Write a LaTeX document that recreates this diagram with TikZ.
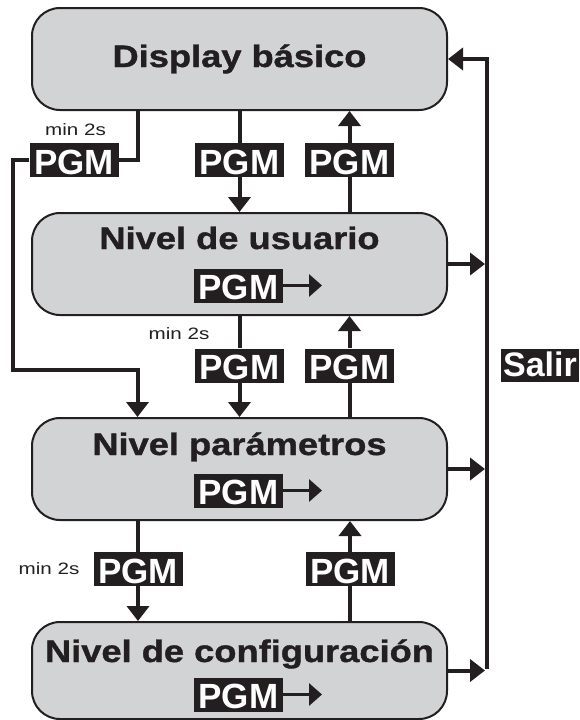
\documentclass[tikz,border=0pt]{standalone}
\usepackage{fontspec}
\setmainfont{Liberation Sans}
\newfontfamily\titlefont[FakeStretch=1.17,FakeBold=1.2]{Liberation Sans}
\newfontfamily\minfont[FakeStretch=1.25]{Liberation Sans}
\usetikzlibrary{arrows.meta}
\definecolor{dark}{HTML}{231F20}
\definecolor{boxgray}{HTML}{D1D3D4}
\tikzset{
  level/.style={draw=dark, line width=2pt, fill=boxgray, rounded corners=28pt, minimum width=415pt, inner sep=0pt},
  title/.style={anchor=base, font=\titlefont\bfseries\fontsize{31}{31}\selectfont, text=dark, inner sep=0pt},
  pgm/.style={fill=dark, text=white, font=\bfseries\fontsize{35}{35}\selectfont, minimum width=89pt, inner xsep=0pt, inner ysep=3pt, text height=28pt, text depth=0pt},
  conn/.style={draw=dark, line width=4pt},
  tip/.style={-{Triangle[length=15pt,width=22pt]}},
  smalltip/.style={line width=3.5pt, -{Triangle[length=13pt,width=22pt]}},
  mintxt/.style={font=\minfont\fontsize{16.5}{16.5}\selectfont, text=dark, inner sep=0pt},
}
\begin{document}
\begin{tikzpicture}[x=1pt,y=-1pt]
\useasboundingbox (0,0) rectangle (579,720);

% level boxes
\node[level, minimum height=102pt] (b1) at (239.5,59) {};
\node[level, minimum height=102pt] (b2) at (239.5,264) {};
\node[level, minimum height=102pt] (b3) at (239.5,469) {};
\node[level, minimum height=97pt] (b4) at (239.5,670.5) {};

% titles
\node[title] (t1) at (239.5,67) {Display básico};
\node[title] (t2) at (239.5,249) {Nivel de usuario};
\node[title] (t3) at (239.5,455) {Nivel parámetros};
\node[title] (t4) at (239.5,662) {Nivel de configuración};

% PGM inside boxes
\node[pgm] (q2) at (238.5,285.5) {PGM};
\node[pgm] (q3) at (238.5,490.5) {PGM};
\node[pgm] (q4) at (238.5,694.5) {PGM};
\coordinate (q2e) at (322,285.5);
\coordinate (q3e) at (322,490.5);
\coordinate (q4e) at (322,694.5);
\draw[conn, smalltip] (q2.east) -- (q2e);
\draw[conn, smalltip] (q3.east) -- (q3e);
\draw[conn, smalltip] (q4.east) -- (q4e);

% PGM labels on connectors
\node[pgm] (pA) at (239.5,160) {PGM};
\node[pgm] (pB) at (349.5,160) {PGM};
\node[pgm] (pC) at (74,160) {PGM};
\node[pgm] (pD) at (239.5,365.5) {PGM};
\node[pgm] (pE) at (349.5,365.5) {PGM};
\node[pgm] (pF) at (138,569) {PGM};
\node[pgm] (pG) at (350,569) {PGM};

% min 2s labels
\node[mintxt] (m1) at (75.5,130) {min 2s};
\node[mintxt] (m2) at (179,334) {min 2s};
\node[mintxt] (m3) at (49,568.5) {min 2s};

% vertical connectors
\draw[conn] (b1.south) -- (pA.north);
\draw[conn, tip] (pA.south) -- (b2.north);
\draw[conn] (b2.north -| pB) -- (pB.south);
\draw[conn, tip] (pB.north) -- (b1.south -| pB);
\draw[conn] (b2.south) -- (pD.north);
\draw[conn, tip] (pD.south) -- (b3.north);
\draw[conn] (b3.north -| pE) -- (pE.south);
\draw[conn, tip] (pE.north) -- (b2.south -| pE);
\draw[conn] (b3.south -| pF) -- (pF.north);
\draw[conn, tip] (pF.south) -- (b4.north -| pF);
\draw[conn] (b4.north -| pG) -- (pG.south);
\draw[conn, tip] (pG.north) -- (b3.south -| pG);

% long path from Display basico to Nivel parametros
\coordinate (xl) at (137.5,0);
\coordinate (xr) at (12.5,370);
\draw[conn] (b1.south -| xl) -- (xl |- pC) -- (pC.east);
\draw[conn, tip] (pC.west) -- (pC.west -| xr) -- (xr) -- (xr -| xl) -- (b3.north -| xl);

% exit bus
\coordinate (xs) at (487,0);
\draw[conn, tip, shorten >=2pt] (b2.east) -- (b2.east -| xs);
\draw[conn, tip, shorten >=2pt] (b3.east) -- (b3.east -| xs);
\draw[conn, tip, shorten >=2pt] (b4.east) -- (b4.east -| xs);
\draw[conn, tip] ([yshift=2pt]b4.east -| xs) -- (b1.east -| xs) -- (b1.east);

% Salir label
\node[fill=dark, text=white, font=\bfseries\fontsize{34}{34}\selectfont, anchor=east, inner xsep=2pt, inner ysep=2pt, text height=25pt, text depth=4pt] (salir) at (579,365.5) {Salir};
\end{tikzpicture}
\end{document}
